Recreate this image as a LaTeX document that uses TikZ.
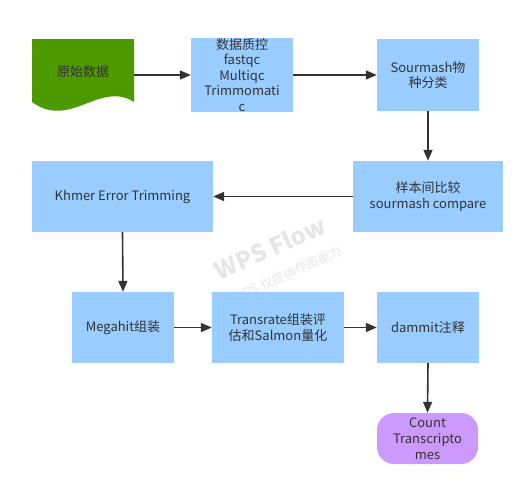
\documentclass[tikz,border=0pt]{standalone}
\usepackage{fontspec}
\setmainfont{Noto Sans CJK SC}
\usetikzlibrary{arrows.meta}
\definecolor{boxblue}{RGB}{153,204,255}
\definecolor{docgreen}{RGB}{77,153,0}
\definecolor{endpurple}{RGB}{204,153,255}
\definecolor{txt}{RGB}{51,51,51}
\definecolor{wm}{RGB}{230,230,230}
\tikzset{
  every node/.style={font=\fontsize{13}{15.5}\selectfont, text=txt, align=center},
  procbox/.style={fill=boxblue, draw=none, inner sep=0pt},
  conn/.style={draw=txt, line width=1.6pt, -{Triangle[length=11pt,width=9pt]}},
}
\begin{document}
\begin{tikzpicture}[x=1pt,y=-1pt]
\useasboundingbox (0,0) rectangle (525,498);
% watermark
\node[rotate=24, font=\fontsize{24}{26}\bfseries\selectfont, text=wm, inner sep=0pt] (wm1) at (270,248) {WPS Flow};
\node[rotate=24, font=\fontsize{12.5}{14}\selectfont, text=wm, inner sep=0pt] (wm2) at (288,274) {WPS 仅提供作图能力};
% document shape
\fill[docgreen] (32,39) -- (134,39) -- (134,102) .. controls (100,80) and (70,130) .. (32,102) -- cycle;
\node (raw) at (83,72) {原始数据};
\coordinate (rawR) at (134,75);
% boxes
\node[procbox, minimum width=102pt, minimum height=72pt] (qc) at (242,75) {数据质控\\fastqc\\Multiqc\\Trimmomati\\c};
\node[procbox, minimum width=102pt, minimum height=72pt] (sm) at (428,75) {Sourmash物\\种分类};
\node[procbox, minimum width=150pt, minimum height=71pt] (cmp) at (428,196.5) {样本间比较\\sourmash compare};
\node[procbox, minimum width=181pt, minimum height=71pt] (kh) at (122.5,196.5) {Khmer Error Trimming};
\node[procbox, minimum width=102pt, minimum height=71pt] (mg) at (123,327.5) {Megahit组装};
\node[procbox, minimum width=132pt, minimum height=71pt] (tr) at (278,327.5) {Transrate组装评\\估和Salmon量化};
\node[procbox, minimum width=102pt, minimum height=71pt] (dm) at (428,327.5) {dammit注释};
\node[fill=endpurple, rounded corners=17pt, minimum width=101pt, minimum height=51pt, inner sep=0pt, font=\fontsize{13}{16}\selectfont] (cnt) at (427.5,438.5) {Count\\Transcripto\\mes};
% connectors
\draw[conn] (rawR) -- (qc.west);
\draw[conn] (qc.east) -- (sm.west);
\draw[conn] (sm.south) -- (cmp.north);
\draw[conn] (cmp.west) -- (kh.east);
\draw[conn] (kh.south) -- (mg.north);
\draw[conn] (mg.east) -- (tr.west);
\draw[conn] (tr.east) -- (dm.west);
\draw[conn] (dm.south) -- (cnt.north);
\end{tikzpicture}
\end{document}
